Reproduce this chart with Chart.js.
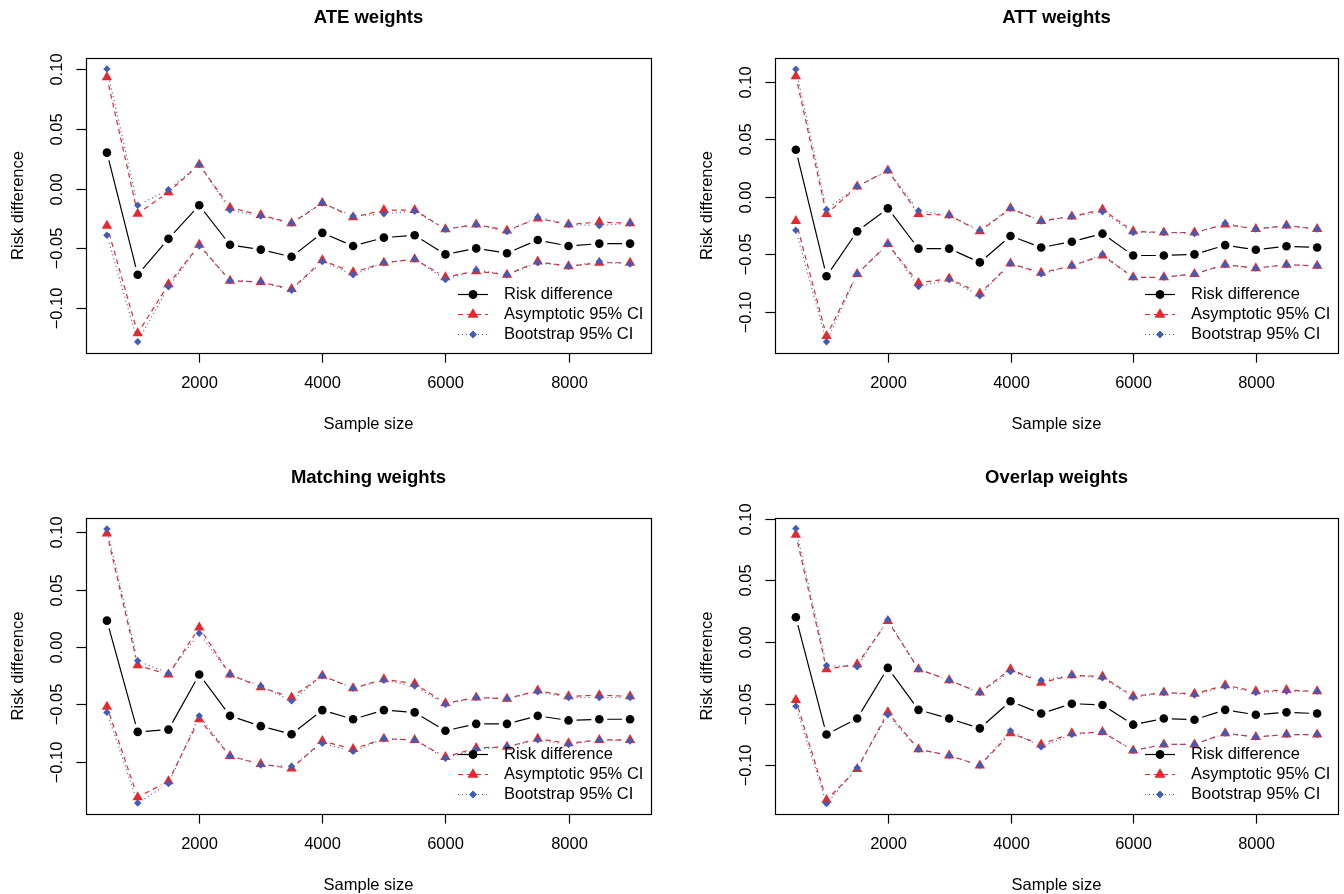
<!DOCTYPE html>
<html>
<head>
<meta charset="utf-8">
<script src="https://cdn.jsdelivr.net/npm/chart.js@4"></script>
<style>
  html, body { margin: 0; padding: 0; background: #fff; }
  #wrap { position: relative; width: 1344px; height: 894px; }
  #wrap canvas { position: absolute; }
</style>
</head>
<body>
<div id="wrap">
  <canvas id="ate" width="672" height="447" style="left:0;top:0"></canvas>
  <canvas id="att" width="672" height="447" style="left:672px;top:0"></canvas>
  <canvas id="mw" width="672" height="447" style="left:0;top:447px"></canvas>
  <canvas id="ow" width="672" height="447" style="left:672px;top:447px"></canvas>
</div>
<script>
// sample sizes on the x axis
const sampleSizes = [500, 1000, 1500, 2000, 2500, 3000, 3500, 4000, 4500, 5000, 5500, 6000, 6500, 7000, 7500, 8000, 8500, 9000];
const xTicks = [2000, 4000, 6000, 8000];
const yTicks = [-0.10, -0.05, 0.00, 0.05, 0.10];

// ATE weights
const ateRD      = [0.030, -0.072, -0.042, -0.014, -0.047, -0.051, -0.057, -0.037, -0.048, -0.041, -0.039, -0.055, -0.050, -0.054, -0.043, -0.048, -0.046, -0.046];
const ateAsymHi  = [0.093, -0.021, -0.003, 0.020, -0.016, -0.022, -0.029, -0.012, -0.024, -0.018, -0.018, -0.034, -0.030, -0.035, -0.025, -0.030, -0.028, -0.029];
const ateAsymLo  = [-0.031, -0.121, -0.080, -0.047, -0.077, -0.078, -0.084, -0.060, -0.070, -0.062, -0.059, -0.074, -0.069, -0.072, -0.061, -0.065, -0.062, -0.062];
const ateBootHi  = [0.100, -0.014, -0.001, 0.020, -0.018, -0.023, -0.029, -0.012, -0.023, -0.021, -0.019, -0.034, -0.030, -0.036, -0.024, -0.030, -0.031, -0.029];
const ateBootLo  = [-0.039, -0.128, -0.082, -0.048, -0.077, -0.078, -0.085, -0.061, -0.072, -0.062, -0.059, -0.076, -0.068, -0.072, -0.062, -0.065, -0.061, -0.063];

// ATT weights
const attRD      = [0.041, -0.069, -0.030, -0.010, -0.045, -0.045, -0.057, -0.034, -0.044, -0.039, -0.032, -0.051, -0.051, -0.050, -0.042, -0.046, -0.043, -0.044];
const attAsymHi  = [0.105, -0.015, 0.009, 0.023, -0.015, -0.016, -0.030, -0.010, -0.021, -0.017, -0.011, -0.030, -0.031, -0.031, -0.024, -0.028, -0.025, -0.028];
const attAsymLo  = [-0.021, -0.121, -0.067, -0.041, -0.075, -0.071, -0.084, -0.058, -0.066, -0.060, -0.051, -0.070, -0.070, -0.067, -0.059, -0.062, -0.059, -0.060];
const attBootHi  = [0.111, -0.011, 0.009, 0.023, -0.012, -0.016, -0.029, -0.010, -0.021, -0.017, -0.013, -0.031, -0.031, -0.032, -0.023, -0.028, -0.025, -0.028];
const attBootLo  = [-0.029, -0.126, -0.067, -0.041, -0.078, -0.072, -0.086, -0.058, -0.067, -0.060, -0.050, -0.070, -0.070, -0.067, -0.059, -0.062, -0.059, -0.060];

// Matching weights
const mwRD       = [0.023, -0.074, -0.072, -0.024, -0.060, -0.069, -0.076, -0.055, -0.063, -0.055, -0.057, -0.073, -0.067, -0.067, -0.060, -0.064, -0.063, -0.063];
const mwAsymHi   = [0.099, -0.016, -0.024, 0.017, -0.024, -0.035, -0.044, -0.025, -0.036, -0.028, -0.032, -0.049, -0.044, -0.045, -0.038, -0.043, -0.042, -0.043];
const mwAsymLo   = [-0.052, -0.131, -0.117, -0.063, -0.095, -0.102, -0.106, -0.082, -0.089, -0.080, -0.081, -0.096, -0.088, -0.087, -0.080, -0.084, -0.081, -0.081];
const mwBootHi   = [0.103, -0.012, -0.023, 0.012, -0.024, -0.034, -0.047, -0.025, -0.036, -0.029, -0.034, -0.050, -0.044, -0.045, -0.039, -0.044, -0.044, -0.044];
const mwBootLo   = [-0.057, -0.136, -0.119, -0.060, -0.095, -0.103, -0.104, -0.084, -0.091, -0.080, -0.081, -0.097, -0.089, -0.087, -0.081, -0.085, -0.081, -0.082];

// Overlap weights
const owRD       = [0.020, -0.075, -0.062, -0.021, -0.055, -0.062, -0.070, -0.048, -0.058, -0.050, -0.051, -0.067, -0.062, -0.063, -0.055, -0.059, -0.057, -0.058];
const owAsymHi   = [0.087, -0.022, -0.018, 0.017, -0.022, -0.031, -0.041, -0.022, -0.033, -0.027, -0.028, -0.044, -0.041, -0.042, -0.035, -0.040, -0.039, -0.040];
const owAsymLo   = [-0.047, -0.128, -0.103, -0.057, -0.087, -0.092, -0.100, -0.074, -0.083, -0.074, -0.073, -0.088, -0.083, -0.083, -0.074, -0.077, -0.075, -0.075];
const owBootHi   = [0.092, -0.019, -0.020, 0.018, -0.022, -0.031, -0.041, -0.024, -0.031, -0.027, -0.029, -0.045, -0.041, -0.043, -0.036, -0.041, -0.040, -0.040];
const owBootLo   = [-0.052, -0.131, -0.102, -0.059, -0.087, -0.092, -0.100, -0.072, -0.085, -0.075, -0.073, -0.088, -0.083, -0.083, -0.074, -0.077, -0.075, -0.075];

const RED = "#e8282c";
const BLUE = "#3f5db8";
const FONT = "'Liberation Sans', Arial, Helvetica, sans-serif";
const GAP = 8; // R type="b": segments stop short of the points
const LW = 1.2;

function fmtY(v) {
  const s = Math.abs(v).toFixed(2);
  return v < -1e-9 ? "\u2212" + s : s;
}

// draws lines the way R's type="b" does, plus axes, box, titles and legend
const rPlot = {
  id: "rPlot",
  beforeDatasetDraw(chart, args) {
    const ds = chart.data.datasets[args.index];
    const pts = args.meta.data;
    const ctx = chart.ctx;
    ctx.save();
    ctx.strokeStyle = ds.borderColor;
    ctx.lineWidth = LW;
    ctx.setLineDash(ds.dash);
    ctx.beginPath();
    for (let i = 0; i < pts.length - 1; i++) {
      const a = pts[i], b = pts[i + 1];
      const dx = b.x - a.x, dy = b.y - a.y;
      const len = Math.sqrt(dx * dx + dy * dy);
      if (len <= 2 * GAP) continue;
      const ux = dx / len, uy = dy / len;
      ctx.moveTo(a.x + ux * GAP, a.y + uy * GAP);
      ctx.lineTo(b.x - ux * GAP, b.y - uy * GAP);
    }
    ctx.stroke();
    ctx.restore();
  },
  afterDraw(chart, args, opts) {
    const ctx = chart.ctx;
    const area = chart.chartArea;
    const xs = chart.scales.x, ys = chart.scales.y;
    ctx.save();
    ctx.strokeStyle = "#000";
    ctx.fillStyle = "#000";
    ctx.lineWidth = LW;
    ctx.setLineDash([]);

    // box
    ctx.strokeRect(Math.round(area.left) + 0.5, Math.round(area.top) + 0.5,
      Math.round(area.right - area.left), Math.round(area.bottom - area.top));

    // x axis
    ctx.font = "16.5px " + FONT;
    ctx.textAlign = "center";
    ctx.textBaseline = "middle";
    xTicks.forEach(function (t) {
      const px = Math.round(xs.getPixelForValue(t)) + 0.5;
      ctx.beginPath();
      ctx.moveTo(px, area.bottom);
      ctx.lineTo(px, area.bottom + 9.6);
      ctx.stroke();
      ctx.fillText(String(t), px, area.bottom + 30);
    });
    ctx.fillText("Sample size", (area.left + area.right) / 2, area.bottom + 71);

    // y axis
    yTicks.forEach(function (t) {
      const py = Math.round(ys.getPixelForValue(t)) + 0.5;
      ctx.beginPath();
      ctx.moveTo(area.left, py);
      ctx.lineTo(area.left - 9.6, py);
      ctx.stroke();
      ctx.save();
      ctx.translate(area.left - 29, py);
      ctx.rotate(-Math.PI / 2);
      ctx.fillText(fmtY(t), 0, 0);
      ctx.restore();
    });
    ctx.save();
    ctx.translate(area.left - 68, (area.top + area.bottom) / 2);
    ctx.rotate(-Math.PI / 2);
    ctx.fillText("Risk difference", 0, 0);
    ctx.restore();

    // title
    ctx.font = "bold 18.5px " + FONT;
    ctx.fillText(opts.title, (area.left + area.right) / 2, area.top - 40);

    // legend (no frame, like bty = "n")
    const items = [
      { label: "Risk difference", color: "#000", dash: [], shape: "circle", r: 4.3 },
      { label: "Asymptotic 95% CI", color: RED, dash: [5, 4], shape: "triangle", r: 6 },
      { label: "Bootstrap 95% CI", color: BLUE, dash: [1, 3], shape: "rectRot", r: 3.7 }
    ];
    ctx.font = "16.5px " + FONT;
    ctx.textAlign = "left";
    items.forEach(function (it, i) {
      const y = area.top + 236.5 + i * 20;
      ctx.strokeStyle = it.color;
      ctx.fillStyle = it.color;
      ctx.setLineDash(it.dash);
      ctx.beginPath();
      ctx.moveTo(area.right - 193, y);
      ctx.lineTo(area.right - 163, y);
      ctx.stroke();
      ctx.setLineDash([]);
      Chart.helpers.drawPoint(ctx, { pointStyle: it.shape, radius: it.r, rotation: 0, borderWidth: 0 }, area.right - 178, y);
      ctx.fill();
      ctx.fillStyle = "#000";
      ctx.fillText(it.label, area.right - 147, y);
    });
    ctx.restore();
  }
};

function series(values) {
  return sampleSizes.map(function (n, i) { return { x: n, y: values[i] }; });
}

function dataset(label, values, color, dash, shape, radius, order) {
  return {
    label: label,
    data: series(values),
    showLine: false,
    borderColor: color,
    backgroundColor: color,
    pointStyle: shape,
    pointRadius: radius,
    pointBorderWidth: 0,
    pointBackgroundColor: color,
    dash: dash,
    order: order
  };
}

function makePanel(id, title, rd, aHi, aLo, bHi, bLo, yMin, yMax, pad) {
  new Chart(document.getElementById(id), {
    type: "line",
    data: {
      datasets: [
        dataset("Risk difference", rd, "#000", [], "circle", 4.3, 2),
        dataset("Asymptotic upper", aHi, RED, [5, 4], "triangle", 6, 1),
        dataset("Asymptotic lower", aLo, RED, [5, 4], "triangle", 6, 1),
        dataset("Bootstrap upper", bHi, BLUE, [1, 3], "rectRot", 3.7, 0),
        dataset("Bootstrap lower", bLo, BLUE, [1, 3], "rectRot", 3.7, 0)
      ]
    },
    options: {
      responsive: false,
      animation: false,
      events: [],
      layout: { padding: pad },
      scales: {
        x: { type: "linear", min: 160, max: 9340, display: false },
        y: { type: "linear", min: yMin, max: yMax, display: false }
      },
      plugins: {
        legend: { display: false },
        tooltip: { enabled: false },
        rPlot: { title: title }
      }
    },
    plugins: [rPlot]
  });
}

makePanel("ate", "ATE weights", ateRD, ateAsymHi, ateAsymLo, ateBootHi, ateBootLo, -0.1374, 0.1091,
  { left: 86, right: 21, top: 58, bottom: 94 });
makePanel("att", "ATT weights", attRD, attAsymHi, attAsymLo, attBootHi, attBootLo, -0.1358, 0.1208,
  { left: 103, right: 4, top: 58, bottom: 94 });
makePanel("mw", "Matching weights", mwRD, mwAsymHi, mwAsymLo, mwBootHi, mwBootLo, -0.1456, 0.1125,
  { left: 86, right: 21, top: 71, bottom: 80 });
makePanel("ow", "Overlap weights", owRD, owAsymHi, owAsymLo, owBootHi, owBootLo, -0.1394, 0.1005,
  { left: 103, right: 4, top: 71, bottom: 80 });
</script>
</body>
</html>
